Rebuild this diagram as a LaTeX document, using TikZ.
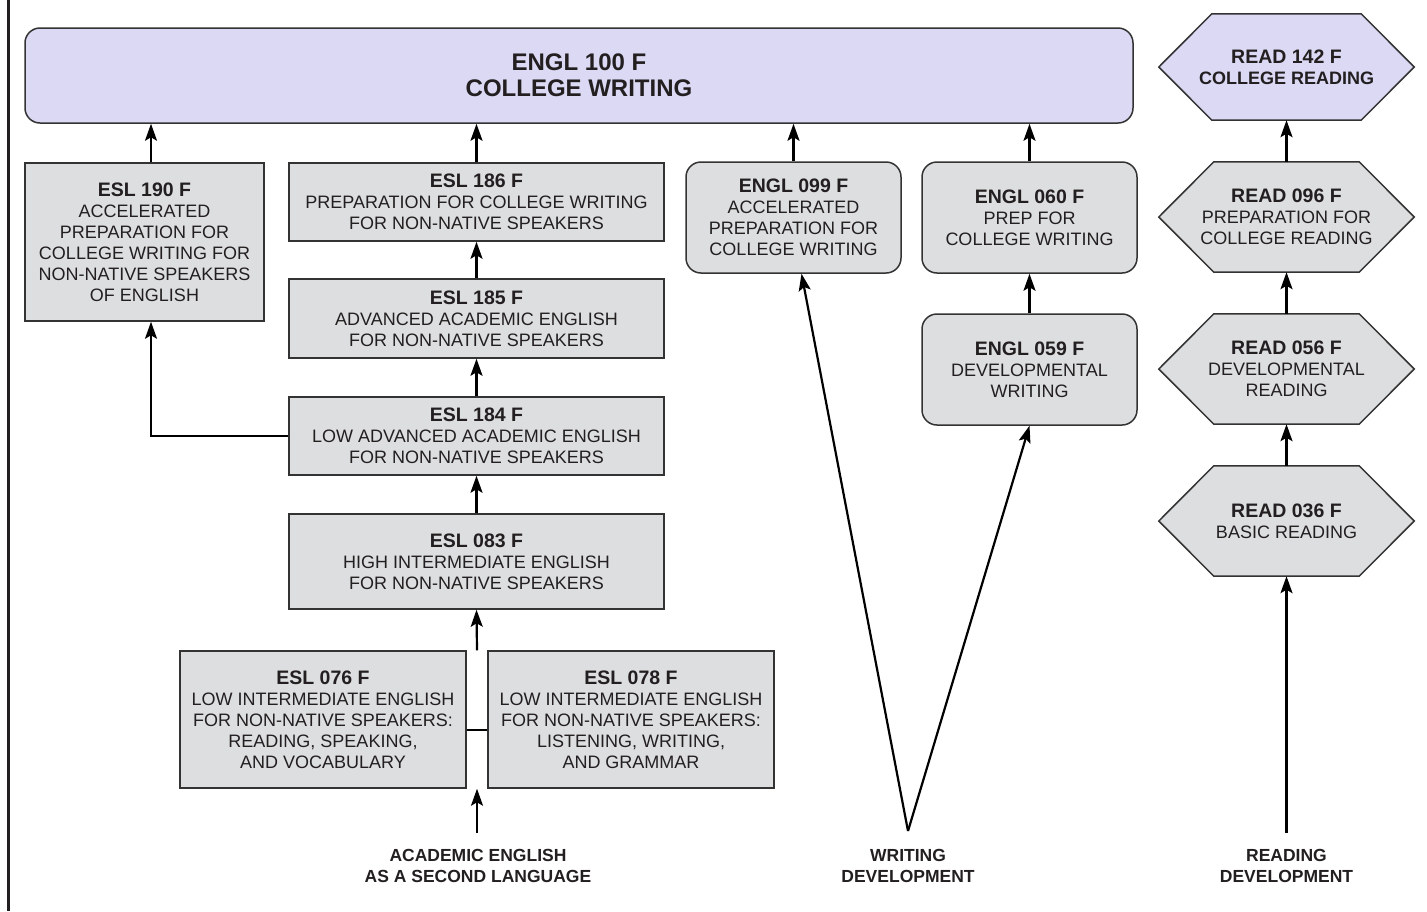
\documentclass[tikz,border=0pt]{standalone}
\usepackage{fontspec}
\setmainfont{Liberation Sans}
\usetikzlibrary{arrows.meta,calc}
\pgfdeclarelayer{background}
\pgfsetlayers{background,main}
\definecolor{boxgray}{RGB}{221,222,224}
\definecolor{lav}{RGB}{219,217,243}
\definecolor{edge}{RGB}{51,51,51}
\definecolor{ink}{RGB}{35,31,32}
\newcommand\crstitle[1]{{\bfseries\fontsize{19.5}{21}\selectfont #1}}
\begin{document}
\begin{tikzpicture}[x=1pt,y=-1pt,
  every node/.style={text=ink},
  course/.style={draw=edge, line width=1.5pt, fill=boxgray, align=center, inner sep=0pt, font=\fontsize{18}{21}\selectfont},
  sqbox/.style={course, rectangle},
  rbox/.style={course, rounded corners=15pt},
  hexbox/.style={rectangle, align=center, inner sep=0pt, font=\fontsize{18}{21}\selectfont},
  hexline/.style={draw=edge, line width=1.5pt, line join=miter},
  arr/.style={draw=black, line width=2.2pt, -{Stealth[length=17pt,width=12pt,inset=3.5pt]}},
  link/.style={draw=black, line width=2pt},
  track/.style={font=\bfseries\fontsize{17.5}{20.5}\selectfont, align=center}
]
\useasboundingbox (0,0) rectangle (1427,911);
\draw[line width=3pt, draw=ink] (8,0) -- (8,911);

% top target
\node[rbox, fill=lav, minimum width=1108pt, minimum height=95pt, font=\bfseries\fontsize{24}{26}\selectfont] (e100) at (579,75.5) {ENGL 100 F\\COLLEGE WRITING};
\node[hexbox, minimum width=255pt, minimum height=106pt] (r142) at (1286.5,67) {\crstitle{READ 142 F}\\{\bfseries COLLEGE READING}};

% ESL track
\node[sqbox, minimum width=239pt, minimum height=158pt] (e190) at (144.5,242) {\crstitle{ESL 190 F}\\ACCELERATED\\PREPARATION FOR\\COLLEGE WRITING FOR\\NON-NATIVE SPEAKERS\\OF ENGLISH};
\node[sqbox, minimum width=375pt, minimum height=78pt] (e186) at (476.5,202) {\crstitle{ESL 186 F}\\PREPARATION FOR COLLEGE WRITING\\FOR NON-NATIVE SPEAKERS};
\node[sqbox, minimum width=375pt, minimum height=79pt] (e185) at (476.5,318.5) {\crstitle{ESL 185 F}\\ADVANCED ACADEMIC ENGLISH\\FOR NON-NATIVE SPEAKERS};
\node[sqbox, minimum width=375pt, minimum height=78pt] (e184) at (476.5,436) {\crstitle{ESL 184 F}\\LOW ADVANCED ACADEMIC ENGLISH\\FOR NON-NATIVE SPEAKERS};
\node[sqbox, minimum width=375pt, minimum height=95pt] (e083) at (476.5,561.5) {\crstitle{ESL 083 F}\\HIGH INTERMEDIATE ENGLISH\\FOR NON-NATIVE SPEAKERS};
\node[sqbox, minimum width=286pt, minimum height=137pt] (e076) at (323,719.5) {\crstitle{ESL 076 F}\\LOW INTERMEDIATE ENGLISH\\FOR NON-NATIVE SPEAKERS:\\READING, SPEAKING,\\AND VOCABULARY};
\node[sqbox, minimum width=286pt, minimum height=137pt] (e078) at (631,719.5) {\crstitle{ESL 078 F}\\LOW INTERMEDIATE ENGLISH\\FOR NON-NATIVE SPEAKERS:\\LISTENING, WRITING,\\AND GRAMMAR};

% writing track
\node[rbox, minimum width=215pt, minimum height=111pt] (e099) at (793.5,217.5) {\crstitle{ENGL 099 F}\\ACCELERATED\\PREPARATION FOR\\COLLEGE WRITING};
\node[rbox, minimum width=215pt, minimum height=111pt] (e060) at (1029.5,217.5) {\crstitle{ENGL 060 F}\\PREP FOR\\COLLEGE WRITING};
\node[rbox, minimum width=215pt, minimum height=111pt] (e059) at (1029.5,369.5) {\crstitle{ENGL 059 F}\\DEVELOPMENTAL\\WRITING};

% reading track
\node[hexbox, minimum width=255pt, minimum height=110pt] (r096) at (1286.5,217) {\crstitle{READ 096 F}\\PREPARATION FOR\\COLLEGE READING};
\node[hexbox, minimum width=255pt, minimum height=110pt] (r056) at (1286.5,369) {\crstitle{READ 056 F}\\DEVELOPMENTAL\\READING};
\node[hexbox, minimum width=255pt, minimum height=110pt] (r036) at (1286.5,521) {\crstitle{READ 036 F}\\BASIC READING};

\begin{pgfonlayer}{background}
\foreach \n/\s/\c in {r142/53/lav,r096/55/boxgray,r056/55/boxgray,r036/55/boxgray}{
  \draw[hexline, fill=\c] (\n.west) -- ([xshift=\s pt]\n.north west) -- ([xshift=-\s pt]\n.north east) -- (\n.east) -- ([xshift=-\s pt]\n.south east) -- ([xshift=\s pt]\n.south west) -- cycle;}
\end{pgfonlayer}

% track labels
\node[track] (lesl) at (478,866) {ACADEMIC ENGLISH\\AS A SECOND LANGUAGE};
\node[track] (lwri) at (908,866) {WRITING\\DEVELOPMENT};
\node[track] (lrea) at (1286.5,866) {READING\\DEVELOPMENT};

% connectors
\coordinate (c190) at (151,0);
\draw[arr] (e190.north -| c190) -- (e100.south -| c190);
\draw[arr] (e186.north) -- (e100.south -| e186.north);
\draw[arr] (e099.north) -- (e100.south -| e099.north);
\draw[arr] (e060.north) -- (e100.south -| e060.north);
\draw[arr] (r096.north) -- (r142.south);
\draw[arr] (r056.north) -- (r096.south);
\draw[arr] (r036.north) -- (r056.south);
\draw[arr] (e185.north) -- (e186.south);
\draw[arr] (e184.north) -- (e185.south);
\draw[arr] (e083.north) -- (e184.south);
\draw[arr] (e059.north) -- (e060.south);
\draw[arr] (e184.west) -| (e190.south -| c190);
\coordinate (gaptop) at ($(e076.north east)!0.5!(e078.north west)$);
\coordinate (gapbot) at ($(e076.south east)!0.5!(e078.south west)$);
\draw[arr] (gaptop) -- (e083.south);
\draw[link] ([yshift=-10pt]e076.east) -- ([yshift=-10pt]e078.west);
\coordinate (esrc) at (477,833);
\draw[arr] (esrc) -- (gapbot);
\coordinate (wsrc) at (908,831);
\draw[arr] (wsrc) -- ([xshift=8pt]e099.south);
\draw[arr] (wsrc) -- (e059.south);
\coordinate (rsrc) at (1286.5,833);
\draw[arr] (rsrc) -- (r036.south);
\end{tikzpicture}
\end{document}
